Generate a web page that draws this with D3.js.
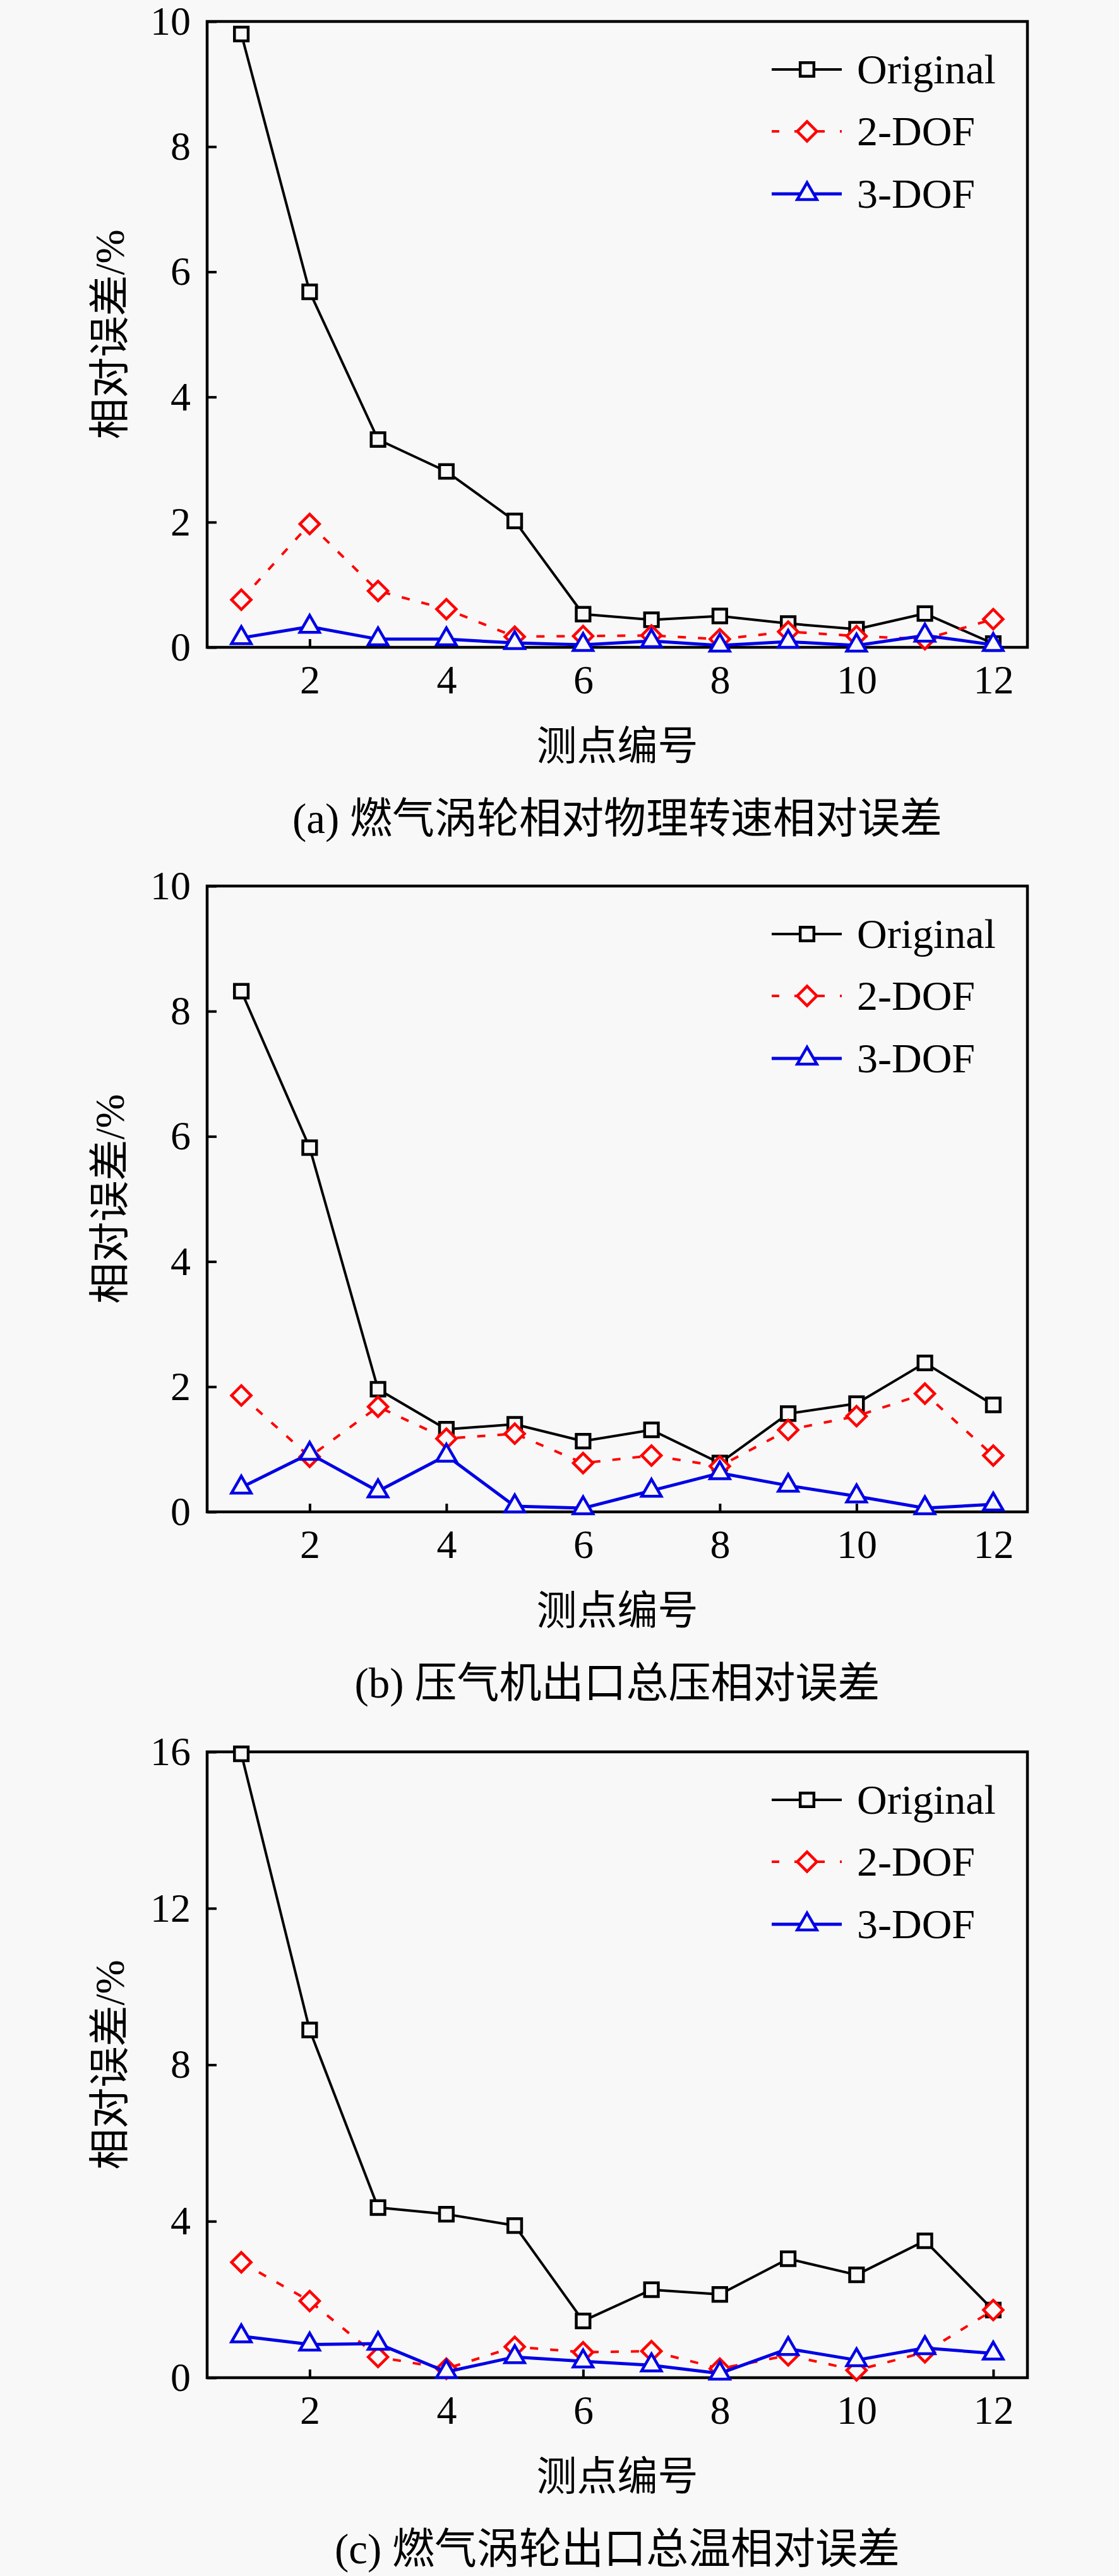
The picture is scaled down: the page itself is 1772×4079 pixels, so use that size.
<!DOCTYPE html>
<html>
<head>
<meta charset="utf-8">
<script src="https://cdn.jsdelivr.net/npm/d3@7"></script>
<style>
  body { margin: 0; background: #f8f8f8; }
  svg { display: block; }
  text { font-family: 'Liberation Serif', 'Noto Sans CJK SC', serif; fill: #000; }
</style>
</head>
<body>
<div id="chart"></div>
<script>
// measuring point numbers on the x axis
const pointIds = [1, 2, 3, 4, 5, 6, 7, 8, 9, 10, 11, 12];
const xTickValues = [2, 4, 6, 8, 10, 12];

const seriesNames = ['Original', '2-DOF', '3-DOF'];

// (a) gas turbine relative speed
const speedOriginal = [9.8, 5.68, 3.32, 2.81, 2.02, 0.53, 0.44, 0.5, 0.38, 0.29, 0.54, 0.06];
const speed2dof = [0.76, 1.97, 0.9, 0.61, 0.17, 0.18, 0.19, 0.13, 0.25, 0.18, 0.13, 0.45];
const speed3dof = [0.15, 0.33, 0.13, 0.13, 0.07, 0.04, 0.1, 0.03, 0.09, 0.03, 0.19, 0.04];
const speedYTicks = [0, 2, 4, 6, 8, 10];

// (b) compressor outlet total pressure
const pressOriginal = [8.32, 5.82, 1.96, 1.32, 1.4, 1.13, 1.31, 0.78, 1.57, 1.73, 2.38, 1.71];
const press2dof = [1.86, 0.88, 1.68, 1.17, 1.25, 0.78, 0.9, 0.73, 1.31, 1.53, 1.89, 0.9];
const press3dof = [0.39, 0.93, 0.33, 0.9, 0.09, 0.06, 0.34, 0.62, 0.42, 0.25, 0.06, 0.12];
const pressYTicks = [0, 2, 4, 6, 8, 10];

// (c) gas turbine outlet total temperature
const tempOriginal = [15.95, 8.89, 4.35, 4.18, 3.89, 1.45, 2.25, 2.13, 3.04, 2.63, 3.5, 1.73];
const temp2dof = [2.95, 1.96, 0.53, 0.23, 0.79, 0.65, 0.68, 0.23, 0.57, 0.19, 0.65, 1.73];
const temp3dof = [1.06, 0.85, 0.87, 0.15, 0.53, 0.42, 0.32, 0.11, 0.74, 0.45, 0.76, 0.62];
const tempYTicks = [0, 4, 8, 12, 16];

const captions = [
  '(a) 燃气涡轮相对物理转速相对误差',
  '(b) 压气机出口总压相对误差',
  '(c) 燃气涡轮出口总温相对误差'
];
const xLabel = '测点编号';
const yLabel = '相对误差/%';

const panels = [
  { series: [speedOriginal, speed2dof, speed3dof], yTicks: speedYTicks, caption: captions[0] },
  { series: [pressOriginal, press2dof, press3dof], yTicks: pressYTicks, caption: captions[1] },
  { series: [tempOriginal, temp2dof, temp3dof], yTicks: tempYTicks, caption: captions[2] }
];

// constants
const width = 1772, height = 4079;
const bg = '#f8f8f8';
const plotLeft = 328, plotRight = 1627, plotH = 991;
const panelTops = [34, 1403, 2774];
const fontSize = 64;

const styles = [
  { color: '#000000', dash: null, width: 4, symbol: d3.symbolSquare, size: 470, rotate: 0 },
  { color: '#ff0000', dash: '13,19', width: 4, symbol: d3.symbolSquare, size: 480, rotate: 45 },
  { color: '#0000e6', dash: null, width: 5, symbol: d3.symbolTriangle, size: 420, rotate: 0 }
];

const svg = d3.select('#chart').append('svg')
  .attr('width', width)
  .attr('height', height);

svg.append('rect')
  .attr('width', width)
  .attr('height', height)
  .attr('fill', bg);

const x = d3.scaleLinear()
  .domain([0.5, 12.5])
  .range([plotLeft, plotRight]);

panels.forEach((p, i) => {
  const top = panelTops[i];
  const bottom = top + plotH;
  const y = d3.scaleLinear()
    .domain([0, d3.max(p.yTicks)])
    .range([bottom, top]);

  const g = svg.append('g');

  // x axis, ticks pointing inward
  const xAxis = g.append('g')
    .attr('transform', `translate(0,${bottom})`)
    .call(d3.axisBottom(x).tickValues(xTickValues).tickSize(-13).tickPadding(28));

  const yAxis = g.append('g')
    .attr('transform', `translate(${plotLeft},0)`)
    .call(d3.axisLeft(y).tickValues(p.yTicks).tickSize(-15).tickPadding(26));

  [xAxis, yAxis].forEach(a => {
    a.attr('font-family', null);
    a.select('.domain').remove();
    a.selectAll('line').attr('stroke', '#000').attr('stroke-width', 4);
    a.selectAll('text')
      .attr('font-size', fontSize)
      .style('font-family', "'Liberation Serif', serif");
  });

  // frame
  g.append('rect')
    .attr('x', plotLeft)
    .attr('y', top)
    .attr('width', plotRight - plotLeft)
    .attr('height', plotH)
    .attr('fill', 'none')
    .attr('stroke', '#000')
    .attr('stroke-width', 4.5);

  const line = d3.line()
    .x((d, j) => x(pointIds[j]))
    .y(d => y(d));

  p.series.forEach((vals, k) => {
    const s = styles[k];
    g.append('path')
      .datum(vals)
      .attr('d', line)
      .attr('fill', 'none')
      .attr('stroke', s.color)
      .attr('stroke-width', s.width)
      .attr('stroke-dasharray', s.dash)
      .attr('stroke-linejoin', 'round');

    g.selectAll(null)
      .data(vals)
      .enter()
      .append('path')
      .attr('d', d3.symbol().type(s.symbol).size(s.size))
      .attr('transform', (d, j) => `translate(${x(pointIds[j])},${y(d)}) rotate(${s.rotate})`)
      .attr('fill', bg)
      .attr('stroke', s.color)
      .attr('stroke-width', 4.5);
  });

  // legend
  const legendRows = [top + 76, top + 174, top + 273];
  seriesNames.forEach((name, k) => {
    const s = styles[k];
    const ly = legendRows[k];
    g.append('line')
      .attr('x1', 1222).attr('x2', 1333)
      .attr('y1', ly).attr('y2', ly)
      .attr('stroke', s.color)
      .attr('stroke-width', s.width)
      .attr('stroke-dasharray', s.dash ? '12,24' : null);
    g.append('path')
      .attr('d', d3.symbol().type(s.symbol).size(s.size))
      .attr('transform', `translate(1278,${ly}) rotate(${s.rotate})`)
      .attr('fill', bg)
      .attr('stroke', s.color)
      .attr('stroke-width', 4.5);
    g.append('text')
      .attr('x', 1357)
      .attr('y', ly)
      .attr('dy', '0.34em')
      .attr('font-size', 66)
      .text(name);
  });

  // axis titles and caption
  g.append('text')
    .attr('transform', `translate(173,${(top + bottom) / 2}) rotate(-90)`)
    .attr('text-anchor', 'middle')
    .attr('dy', '0.36em')
    .attr('font-size', 65)
    .text(yLabel);

  g.append('text')
    .attr('x', (plotLeft + plotRight) / 2)
    .attr('y', bottom + 155)
    .attr('text-anchor', 'middle')
    .attr('dy', '0.36em')
    .attr('font-size', fontSize)
    .text(xLabel);

  g.append('text')
    .attr('x', (plotLeft + plotRight) / 2)
    .attr('y', bottom + 270)
    .attr('text-anchor', 'middle')
    .attr('dy', '0.36em')
    .attr('font-size', 67)
    .text(p.caption);
});
</script>
</body>
</html>
